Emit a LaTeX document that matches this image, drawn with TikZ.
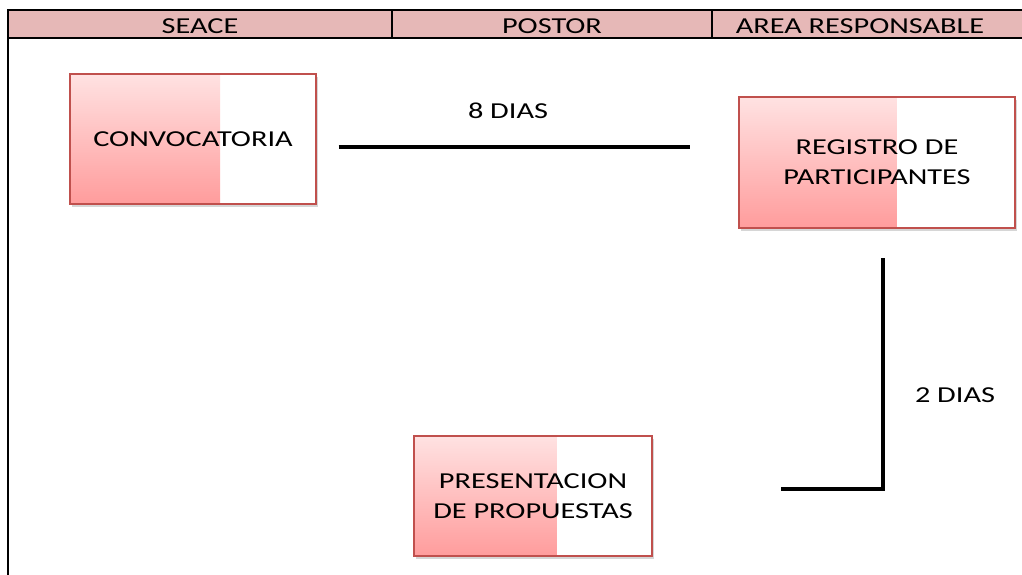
\documentclass[tikz,border=0pt]{standalone}
\usepackage{fontspec}
\setmainfont{Carlito}[FakeStretch=1.33]
\usetikzlibrary{calc,shadows}
\definecolor{hdr}{HTML}{E6B8B7}
\definecolor{gtop}{HTML}{FFE2E2}
\definecolor{gbot}{HTML}{FF9C9C}
\definecolor{bord}{HTML}{C0504D}
\tikzset{
  hdrtext/.style={font=\fontsize{22.8}{25}\selectfont, anchor=center, inner sep=0pt},
  lbl/.style={font=\fontsize{22.8}{25}\selectfont, anchor=center, inner sep=0pt},
  procbox/.style={draw=bord, line width=1.3pt, fill=white, align=center,
    font=\fontsize{22.8}{30}\selectfont, inner sep=0pt,
    drop shadow={shadow xshift=2pt, shadow yshift=-3pt, opacity=0.35, fill=black!45},
    path picture={\shade[top color=gtop, bottom color=gbot]
      (path picture bounding box.north west) rectangle
      ($(path picture bounding box.south west)!#1!(path picture bounding box.south east)$);}},
  thick line/.style={line width=4.5pt, black},
  tline/.style={line width=2.2pt, black}
}
\begin{document}
\begin{tikzpicture}[x=1pt,y=-1pt]
\useasboundingbox[fill=white] (0,0) rectangle (1022,575);
% header
\fill[hdr] (8,10) rectangle (1022,38);
\draw[tline] (1022,10) -- (8,10) -- (8,575);
\draw[tline] (8,38) -- (1022,38);
\draw[tline] (392,10) -- (392,38);
\draw[tline] (712,10) -- (712,38);
\node[hdrtext] (h1) at (200,26) {SEACE};
\node[hdrtext] (h2) at (552,26) {POSTOR};
\node[hdrtext] (h3) at (860,26) {AREA RESPONSABLE};
% boxes
\node[procbox=0.61, minimum width=246pt, minimum height=130pt] (conv) at (193,139) {CONVOCATORIA};
\node[procbox=0.57, minimum width=276pt, minimum height=131pt] (reg) at (877,162.5) {REGISTRO DE\\PARTICIPANTES};
\node[procbox=0.60, minimum width=238pt, minimum height=120pt] (pres) at (533,496) {PRESENTACION\\DE PROPUESTAS};
% connectors
\coordinate (c1) at ($(conv.east)+(22,8)$);
\coordinate (c2) at ($(reg.west)+(-48,-15.5)$);
\draw[thick line] (c1) -- (c2);
\node[lbl] (d8) at (508,111) {8 DIAS};
\coordinate (c3) at ($(reg.south)+(6,32)$);
\coordinate (c4) at (883,489);
\coordinate (c5) at ($(pres.east)+(131,-7)$);
\draw[thick line, line cap=rect] (c3) -- (c4) -- (c5);
\node[lbl] (d2) at (955,395) {2 DIAS};
\end{tikzpicture}
\end{document}
